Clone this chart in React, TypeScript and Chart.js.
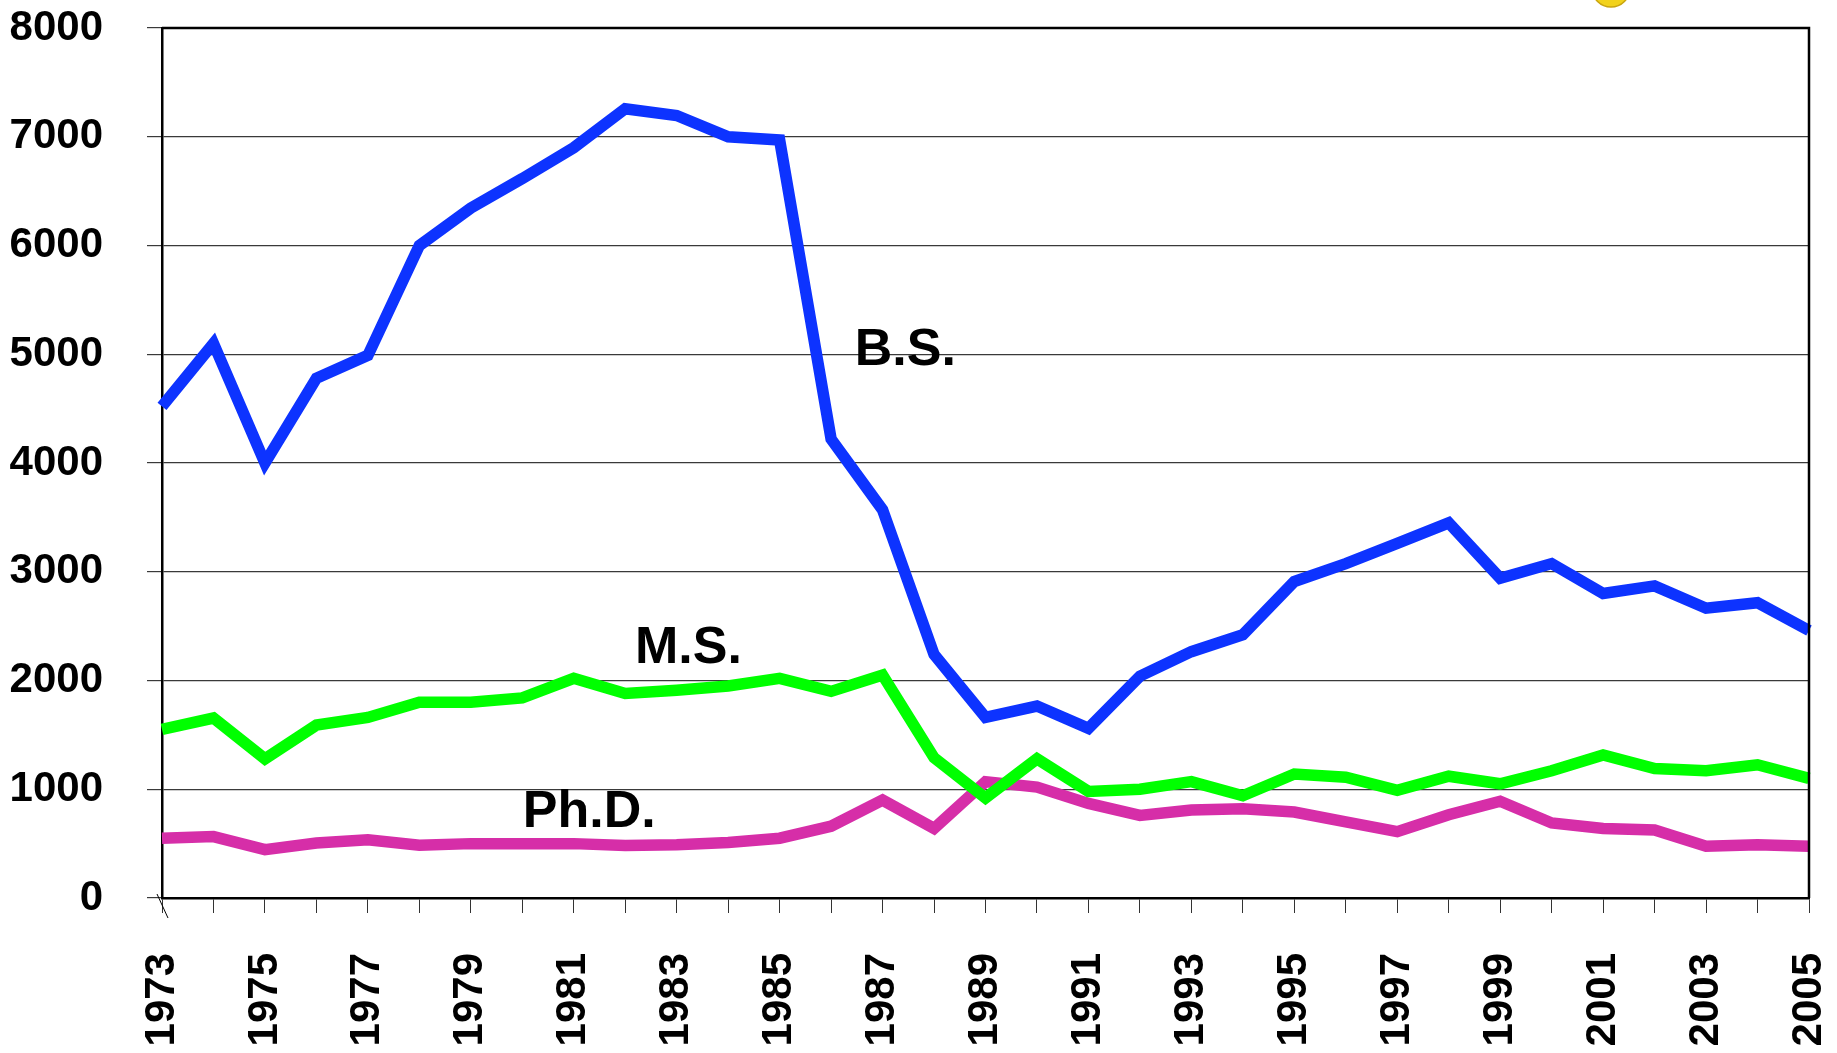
import React, { useEffect, useRef } from "react";
import { Chart, registerables } from "chart.js";

Chart.register(...registerables);

const years = [
  "1973", "1974", "1975", "1976", "1977", "1978", "1979", "1980", "1981", "1982",
  "1983", "1984", "1985", "1986", "1987", "1988", "1989", "1990", "1991", "1992",
  "1993", "1994", "1995", "1996", "1997", "1998", "1999", "2000", "2001", "2002",
  "2003", "2004", "2005",
];

const bsValues = [
  4520, 5100, 4000, 4780, 4990, 6000, 6345, 6615, 6900, 7258,
  7195, 7000, 6970, 4220, 3570, 2240, 1660, 1765, 1560, 2040,
  2265, 2420, 2910, 3075, 3260, 3450, 2940, 3075, 2800, 2870,
  2665, 2715, 2460,
];

const msValues = [
  1550, 1655, 1280, 1590, 1660, 1800, 1800, 1840, 2020, 1880,
  1910, 1950, 2020, 1900, 2050, 1290, 920, 1280, 980, 1000,
  1070, 940, 1140, 1110, 990, 1120, 1050, 1170, 1315, 1190,
  1170, 1225, 1100,
];

const phdValues = [
  550, 565, 445, 506, 536, 485, 500, 500, 500, 482,
  490, 510, 550, 660, 900, 640, 1070, 1020, 870, 760,
  810, 820, 790, 700, 610, 765, 890, 690, 640, 625,
  475, 490, 475,
];

const yTicks = [0, 1000, 2000, 3000, 4000, 5000, 6000, 7000, 8000];

// annotation labels: [text, category index position, value at baseline]
const seriesLabels: [string, number, number][] = [
  ["B.S.", 13.46, 4897],
  ["M.S.", 9.19, 2161],
  ["Ph.D.", 7.01, 656],
];

const FONT = "'Liberation Sans', Arial, Helvetica, sans-serif";

const decorPlugin = {
  id: "decor",
  afterDatasetsDraw(chart: any) {
    const { ctx, chartArea, scales } = chart;
    const x = scales.x;
    const y = scales.y;
    ctx.save();
    // top & right frame
    ctx.strokeStyle = "#000";
    ctx.lineWidth = 2.5;
    ctx.beginPath();
    ctx.moveTo(chartArea.left, chartArea.top);
    ctx.lineTo(chartArea.right, chartArea.top);
    ctx.lineTo(chartArea.right, chartArea.bottom);
    ctx.stroke();
    // axis break mark
    ctx.lineWidth = 1;
    ctx.beginPath();
    ctx.moveTo(chartArea.left - 5, chartArea.bottom - 4);
    ctx.lineTo(chartArea.left + 6, chartArea.bottom + 20);
    ctx.stroke();
    // series labels
    ctx.fillStyle = "#000";
    ctx.font = `bold 52px ${FONT}`;
    ctx.textAlign = "left";
    ctx.textBaseline = "alphabetic";
    for (const [text, idx, val] of seriesLabels) {
      ctx.fillText(text, x.getPixelForValue(idx), y.getPixelForValue(val));
    }
    ctx.restore();
  },
  afterDraw(chart: any) {
    const { ctx, chartArea } = chart;
    ctx.save();
    // partially visible yellow logo at the top edge
    const cx = chartArea.right - 198;
    const cy = -12;
    ctx.beginPath();
    ctx.arc(cx, cy, 19, 0, Math.PI * 2);
    ctx.fillStyle = "#f2d21b";
    ctx.fill();
    ctx.lineWidth = 1.5;
    ctx.strokeStyle = "#c9a40f";
    ctx.stroke();
    ctx.restore();
  },
};

export default function App() {
  const canvasRef = useRef<HTMLCanvasElement | null>(null);

  useEffect(() => {
    document.body.style.margin = "0";
    const canvas = canvasRef.current;
    if (!canvas) return;
    const chart = new Chart(canvas, {
      type: "line",
      data: {
        labels: years,
        datasets: [
          {
            label: "B.S.",
            data: bsValues,
            borderColor: "#0d33ff",
            backgroundColor: "#0d33ff",
            borderWidth: 11.5,
            pointRadius: 0,
            tension: 0,
            fill: false,
          },
          {
            label: "M.S.",
            data: msValues,
            borderColor: "#00ff00",
            backgroundColor: "#00ff00",
            borderWidth: 11.5,
            pointRadius: 0,
            tension: 0,
            fill: false,
          },
          {
            label: "Ph.D.",
            data: phdValues,
            borderColor: "#d62ea8",
            backgroundColor: "#d62ea8",
            borderWidth: 11.5,
            pointRadius: 0,
            tension: 0,
            fill: false,
          },
        ],
      },
      options: {
        animation: false,
        responsive: true,
        maintainAspectRatio: false,
        layout: { padding: { top: 28, right: 28, left: 0, bottom: 0 } },
        plugins: {
          legend: { display: false },
          tooltip: { enabled: false },
          title: { display: false },
        },
        scales: {
          x: {
            type: "category",
            offset: false,
            border: { display: true, color: "#000", width: 2.5 },
            grid: {
              display: true,
              drawOnChartArea: false,
              drawTicks: true,
              tickLength: 15,
              color: "#333",
              lineWidth: 1,
            },
            ticks: {
              autoSkip: false,
              maxRotation: 90,
              minRotation: 90,
              padding: 40,
              color: "#000",
              font: { family: FONT, size: 42, weight: "bold" },
              callback: (_v: any, i: number) => (i % 2 === 0 ? years[i] : ""),
            },
            afterFit: (scale: any) => {
              scale.height = 1053 - 898;
              scale.paddingLeft = 0;
              scale.paddingRight = 0;
              scale.paddingTop = 0;
              scale.paddingBottom = 0;
            },
          },
          y: {
            type: "linear",
            min: 0,
            max: 8000,
            border: { display: true, color: "#000", width: 2.5 },
            grid: {
              display: true,
              drawTicks: true,
              tickLength: 15,
              color: "#3a3a3a",
              lineWidth: 1.2,
            },
            afterBuildTicks: (scale: any) => {
              scale.ticks = yTicks.map((v) => ({ value: v }));
            },
            ticks: {
              padding: 44,
              color: "#000",
              font: { family: FONT, size: 42, weight: "bold" },
              callback: (v: any) => String(v),
            },
            afterFit: (scale: any) => {
              scale.width = 162;
              scale.paddingLeft = 0;
              scale.paddingRight = 0;
              scale.paddingTop = 0;
              scale.paddingBottom = 0;
            },
          },
        },
      },
      plugins: [decorPlugin],
    });
    return () => chart.destroy();
  }, []);

  return (
    <div style={{ position: "fixed", left: 0, top: 0, width: "1837px", height: "1053px", background: "#fff" }}>
      <canvas ref={canvasRef} style={{ display: "block" }} />
    </div>
  );
}
